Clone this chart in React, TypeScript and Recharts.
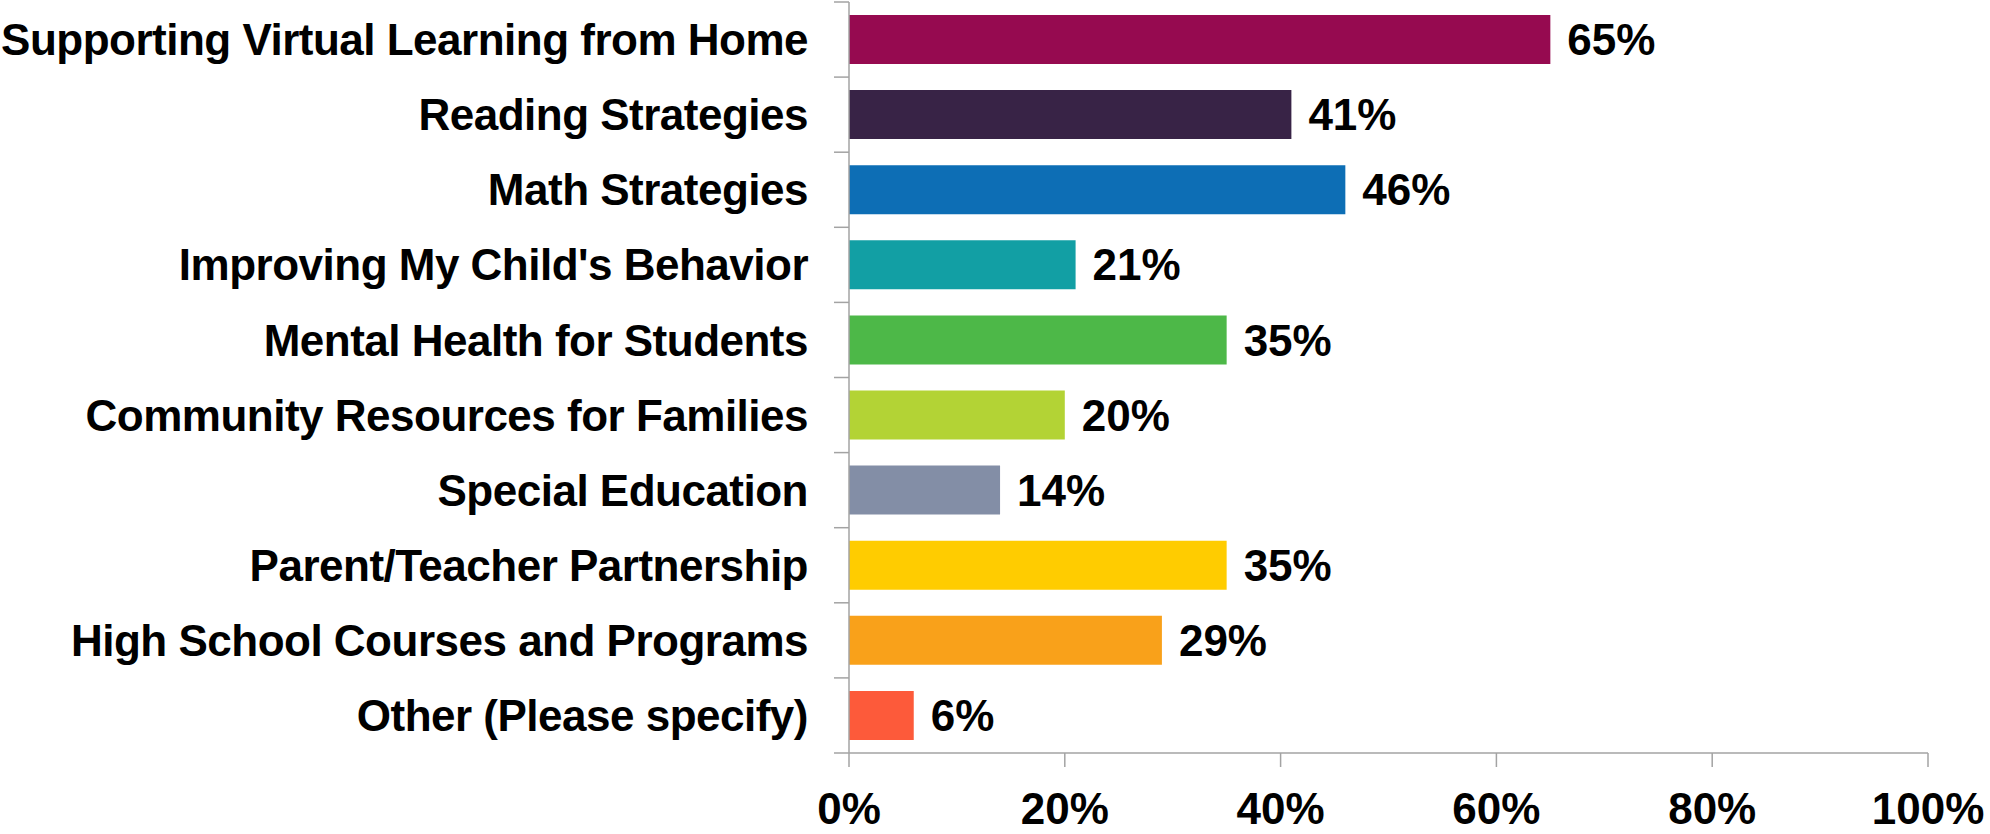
import { BarChart, Bar, XAxis, YAxis, Cell, LabelList } from 'recharts';

const categories = [
  'Supporting Virtual Learning from Home',
  'Reading Strategies',
  'Math Strategies',
  "Improving My Child's Behavior",
  'Mental Health for Students',
  'Community Resources for Families',
  'Special Education',
  'Parent/Teacher Partnership',
  'High School Courses and Programs',
  'Other (Please specify)',
];

const percents = [65, 41, 46, 21, 35, 20, 14, 35, 29, 6];

const barColors = [
  '#960a50',
  '#382346',
  '#0d6eb5',
  '#129fa4',
  '#4db848',
  '#b3d335',
  '#838ea6',
  '#ffcc00',
  '#f9a11a',
  '#fd5a3a',
];

const xTicks = [0, 20, 40, 60, 80, 100];

const data = categories.map((name, i) => ({ name, value: percents[i] }));

const FONT = '"Liberation Sans", Arial, sans-serif';
const AXIS_GRAY = '#a3a3a3';
const Y_TICK_SIZE = 15;
const Y_TICK_MARGIN = 26;

// labels at band centre, tick marks at band edges (like the original)
function CategoryTick(props: any) {
  const { x, y, payload, index, visibleTicksCount } = props;
  const half = payload.offset ?? 0;
  const x1 = x + Y_TICK_MARGIN;
  const x2 = x1 + Y_TICK_SIZE;
  return (
    <g>
      <line x1={x1} x2={x2} y1={y - half} y2={y - half} stroke={AXIS_GRAY} strokeWidth={1.5} />
      {index === visibleTicksCount - 1 && (
        <line x1={x1} x2={x2} y1={y + half} y2={y + half} stroke={AXIS_GRAY} strokeWidth={1.5} />
      )}
      <text
        x={x}
        y={y}
        dy="0.355em"
        textAnchor="end"
        fontFamily={FONT}
        fontWeight="bold"
        fontSize={44}
        letterSpacing={-0.5}
        fill="#000"
      >
        {payload.value}
      </text>
    </g>
  );
}

export default function App() {
  return (
    <div style={{ position: 'absolute', left: 0, top: 0, background: '#fff' }}>
      <BarChart
        width={1990}
        height={834}
        data={data}
        layout="vertical"
        margin={{ top: 2, right: 62, bottom: 0, left: 0 }}
      >
        <XAxis
          type="number"
          domain={[0, 100]}
          ticks={xTicks}
          tickFormatter={(v) => `${v}%`}
          height={81}
          axisLine={{ stroke: AXIS_GRAY, strokeWidth: 1.5 }}
          tickLine={{ stroke: AXIS_GRAY, strokeWidth: 1.5 }}
          tickSize={14}
          tickMargin={26}
          tick={{ fontFamily: FONT, fontWeight: 'bold', fontSize: 44, fill: '#000' }}
          interval={0}
        />
        <YAxis
          type="category"
          dataKey="name"
          width={849}
          axisLine={{ stroke: AXIS_GRAY, strokeWidth: 1.5 }}
          tickLine={false}
          tickSize={Y_TICK_SIZE}
          tickMargin={Y_TICK_MARGIN}
          tick={<CategoryTick />}
          interval={0}
        />
        <Bar dataKey="value" barSize={49} isAnimationActive={false}>
          {data.map((d, i) => (
            <Cell key={d.name} fill={barColors[i]} />
          ))}
          <LabelList
            dataKey="value"
            position="right"
            offset={17}
            formatter={(v: any) => `${v}%`}
            fontFamily={FONT}
            fontWeight="bold"
            fontSize={44}
            fill="#000"
          />
        </Bar>
      </BarChart>
    </div>
  );
}
